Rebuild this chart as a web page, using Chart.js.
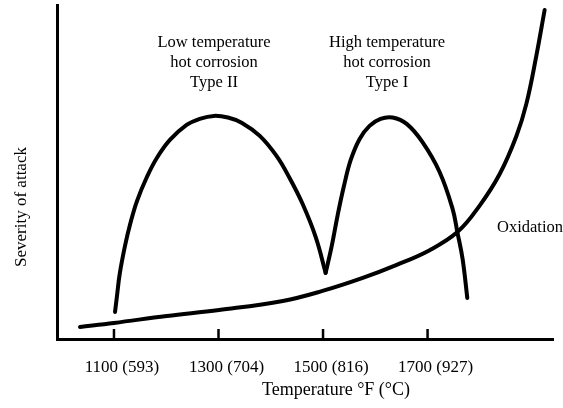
<!DOCTYPE html>
<html>
<head>
<meta charset="utf-8">
<script src="https://cdn.jsdelivr.net/npm/chart.js@4/dist/chart.umd.min.js"></script>
<style>
  html, body { margin: 0; padding: 0; background: #fff; }
  #chart { display: block; }
</style>
</head>
<body>
<canvas id="chart" width="563" height="408"></canvas>
<script>
// valeurs (temperature en degres F, severite en unites relatives 0-100)
var oxidationTemp = [1035, 1100, 1201, 1301, 1423, 1499, 1576, 1641, 1704, 1757, 1799, 1838, 1870, 1889, 1908, 1924];
var oxidationSeverity = [3.6, 4.8, 6.9, 8.7, 11.4, 14.4, 18.3, 22.2, 26.6, 32.0, 39.8, 49.4, 60.8, 70.4, 84.7, 98.5];

var typeIITemp = [1102, 1106, 1111, 1121, 1131, 1144, 1163, 1182, 1207, 1239, 1264, 1291, 1318, 1345, 1379, 1411, 1436, 1461, 1486, 1505];
var typeIISeverity = [8.1, 13.2, 19.5, 27.8, 34.4, 41.3, 48.5, 54.2, 59.6, 64.1, 65.9, 66.8, 66.3, 64.7, 60.8, 54.8, 48.2, 40.4, 30.5, 19.8];

var typeITemp = [1505, 1517, 1528, 1540, 1553, 1570, 1589, 1610, 1633, 1660, 1690, 1723, 1748, 1757, 1767, 1776];
var typeISeverity = [19.8, 28.1, 37.1, 45.8, 53.6, 59.9, 63.8, 65.9, 66.3, 64.4, 59.0, 50.0, 38.9, 32.0, 24.0, 12.3];

var tickTemps = [1100, 1300, 1500, 1700];
var tickLabels = ['1100 (593)', '1300 (704)', '1500 (816)', '1700 (927)'];

function toPoints(xs, ys) {
  var pts = [];
  for (var i = 0; i < xs.length; i++) {
    pts.push({x: xs[i], y: ys[i]});
  }
  return pts;
}

function curve(label, xs, ys) {
  return {
    label: label,
    data: toPoints(xs, ys),
    borderColor: '#000',
    borderWidth: 4,
    borderCapStyle: 'round',
    borderJoinStyle: 'round',
    pointRadius: 0,
    fill: false,
    tension: 0.4
  };
}

var serif = "'Liberation Serif', 'DejaVu Serif', serif";

// petits traits de graduation vers l'interieur + textes de la figure
var decorations = {
  id: 'decorations',
  afterDraw: function (chart) {
    var ctx = chart.ctx;
    var xs = chart.scales.x;
    var area = chart.chartArea;
    ctx.save();
    ctx.strokeStyle = '#000';
    ctx.lineWidth = 2.5;
    for (var i = 0; i < tickTemps.length; i++) {
      var px = xs.getPixelForValue(tickTemps[i]);
      ctx.beginPath();
      ctx.moveTo(px, area.bottom);
      ctx.lineTo(px, area.bottom - 10);
      ctx.stroke();
    }

    ctx.fillStyle = '#000';
    ctx.textAlign = 'center';
    ctx.textBaseline = 'middle';
    ctx.font = '16.5px ' + serif;
    var lowLines = ['Low temperature', 'hot corrosion', 'Type II'];
    var highLines = ['High temperature', 'hot corrosion', 'Type I'];
    for (var j = 0; j < 3; j++) {
      ctx.fillText(lowLines[j], 214, 43 + j * 20);
      ctx.fillText(highLines[j], 387, 43 + j * 20);
    }

    ctx.textAlign = 'left';
    ctx.fillText('Oxidation', 497, 228);

    ctx.textAlign = 'center';
    ctx.font = '18px ' + serif;
    ctx.fillText('Temperature \u00B0F (\u00B0C)', 336, 390);

    ctx.font = '17px ' + serif;
    ctx.translate(22, 207);
    ctx.rotate(-Math.PI / 2);
    ctx.fillText('Severity of attack', 0, 0);
    ctx.restore();
  }
};

new Chart(document.getElementById('chart'), {
  type: 'line',
  data: {
    datasets: [
      curve('Oxidation', oxidationTemp, oxidationSeverity),
      curve('Type II', typeIITemp, typeIISeverity),
      curve('Type I', typeITemp, typeISeverity)
    ]
  },
  options: {
    responsive: false,
    devicePixelRatio: 1,
    animation: false,
    layout: { padding: { left: 0, right: 10, top: 5, bottom: 0 } },
    plugins: {
      legend: { display: false },
      tooltip: { enabled: false },
      title: { display: false }
    },
    scales: {
      x: {
        type: 'linear',
        min: 991,
        max: 1940,
        afterFit: function (scale) { scale.height = 69; },
        afterBuildTicks: function (scale) {
          scale.ticks = tickTemps.map(function (v) { return {value: v}; });
        },
        grid: { display: false, drawTicks: false },
        border: { display: true, color: '#000', width: 3 },
        ticks: {
          color: '#000',
          padding: 18,
          labelOffset: 8,
          maxRotation: 0,
          autoSkip: false,
          font: { family: serif, size: 17 },
          callback: function (value) {
            var k = tickTemps.indexOf(value);
            return k >= 0 ? tickLabels[k] : '';
          }
        }
      },
      y: {
        min: 0,
        max: 100,
        afterFit: function (scale) { scale.width = 57; },
        grid: { display: false, drawTicks: false },
        border: { display: true, color: '#000', width: 3 },
        ticks: { display: false }
      }
    }
  },
  plugins: [decorations]
});
</script>
</body>
</html>
